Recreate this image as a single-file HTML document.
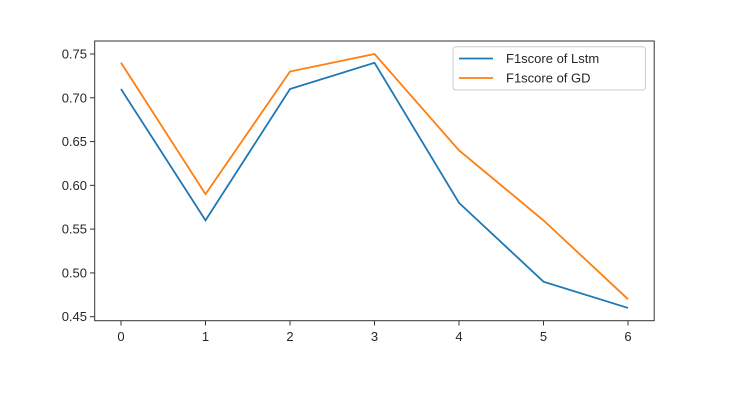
<!DOCTYPE html>
<html><head><meta charset="utf-8"><style>
body{margin:0;background:#fff;}
svg text{font-family:"Liberation Sans","DejaVu Sans",sans-serif;font-size:13px;fill:#262626;}
</style></head><body>
<svg id="chart" width="746" height="411">
<rect x="0" y="0" width="746" height="411" fill="#fff"/>
<g id="grid"></g>
<g id="lines"></g>
<rect x="94.7" y="41" width="559.5" height="279.7" fill="none" stroke="#333" stroke-width="1"/>
<g>
<rect x="453" y="46.7" width="192.5" height="43.3" rx="3" fill="#fff" stroke="#ccc"/>
<line x1="459" y1="58.5" x2="493" y2="58.5" stroke="#1f77b4" stroke-width="1.8"/>
<text x="506" y="63">F1score of Lstm</text>
<line x1="459" y1="78" x2="493" y2="78" stroke="#ff7f0e" stroke-width="1.8"/>
<text x="506" y="82.5">F1score of GD</text>
</g>
</svg>
<script>
const categories=[0,1,2,3,4,5,6];
const lstm=[0.71,0.56,0.71,0.74,0.58,0.49,0.46];
const gd=[0.74,0.59,0.73,0.75,0.64,0.56,0.47];
const yTicks=[0.45,0.50,0.55,0.60,0.65,0.70,0.75];
const yLabels=["0.45","0.50","0.55","0.60","0.65","0.70","0.75"];
const NS="http://www.w3.org/2000/svg";
function xs(v){return 121+v*84.5;}
function ys(v){return 316.7-(v-0.45)/0.30*262.7;}
const g=document.getElementById('grid');
yTicks.forEach((t,i)=>{
 const y=ys(t);
 const l=document.createElementNS(NS,'line');
 l.setAttribute('x1',90);l.setAttribute('x2',94.7);l.setAttribute('y1',y);l.setAttribute('y2',y);l.setAttribute('stroke','#333');
 
 
 g.appendChild(l);
 const tx=document.createElementNS(NS,'text');
 tx.setAttribute('x',87);tx.setAttribute('y',y+4.5);tx.setAttribute('text-anchor','end');tx.textContent=yLabels[i];
 
 
 g.appendChild(tx);
});
categories.forEach(c=>{
 const x=xs(c);
 const l=document.createElementNS(NS,'line');
 l.setAttribute('x1',x);l.setAttribute('x2',x);l.setAttribute('y1',320.7);l.setAttribute('y2',325.5);l.setAttribute('stroke','#333');
 
 
 g.appendChild(l);
 const tx=document.createElementNS(NS,'text');
 tx.setAttribute('x',x);tx.setAttribute('y',341);tx.setAttribute('text-anchor','middle');tx.textContent=String(c);
 
 
 g.appendChild(tx);
});
const lg=document.getElementById('lines');
function drawLine(vals,color,name){
 const p=document.createElementNS(NS,'polyline');
 p.setAttribute('points',vals.map((v,i)=>xs(categories[i])+','+ys(v)).join(' '));
 p.setAttribute('fill','none');p.setAttribute('stroke',color);p.setAttribute('stroke-width','1.8');
 
 
 lg.appendChild(p);
}
drawLine(lstm,'#1f77b4','line-lstm');
drawLine(gd,'#ff7f0e','line-gd');
</script>
</body></html>
